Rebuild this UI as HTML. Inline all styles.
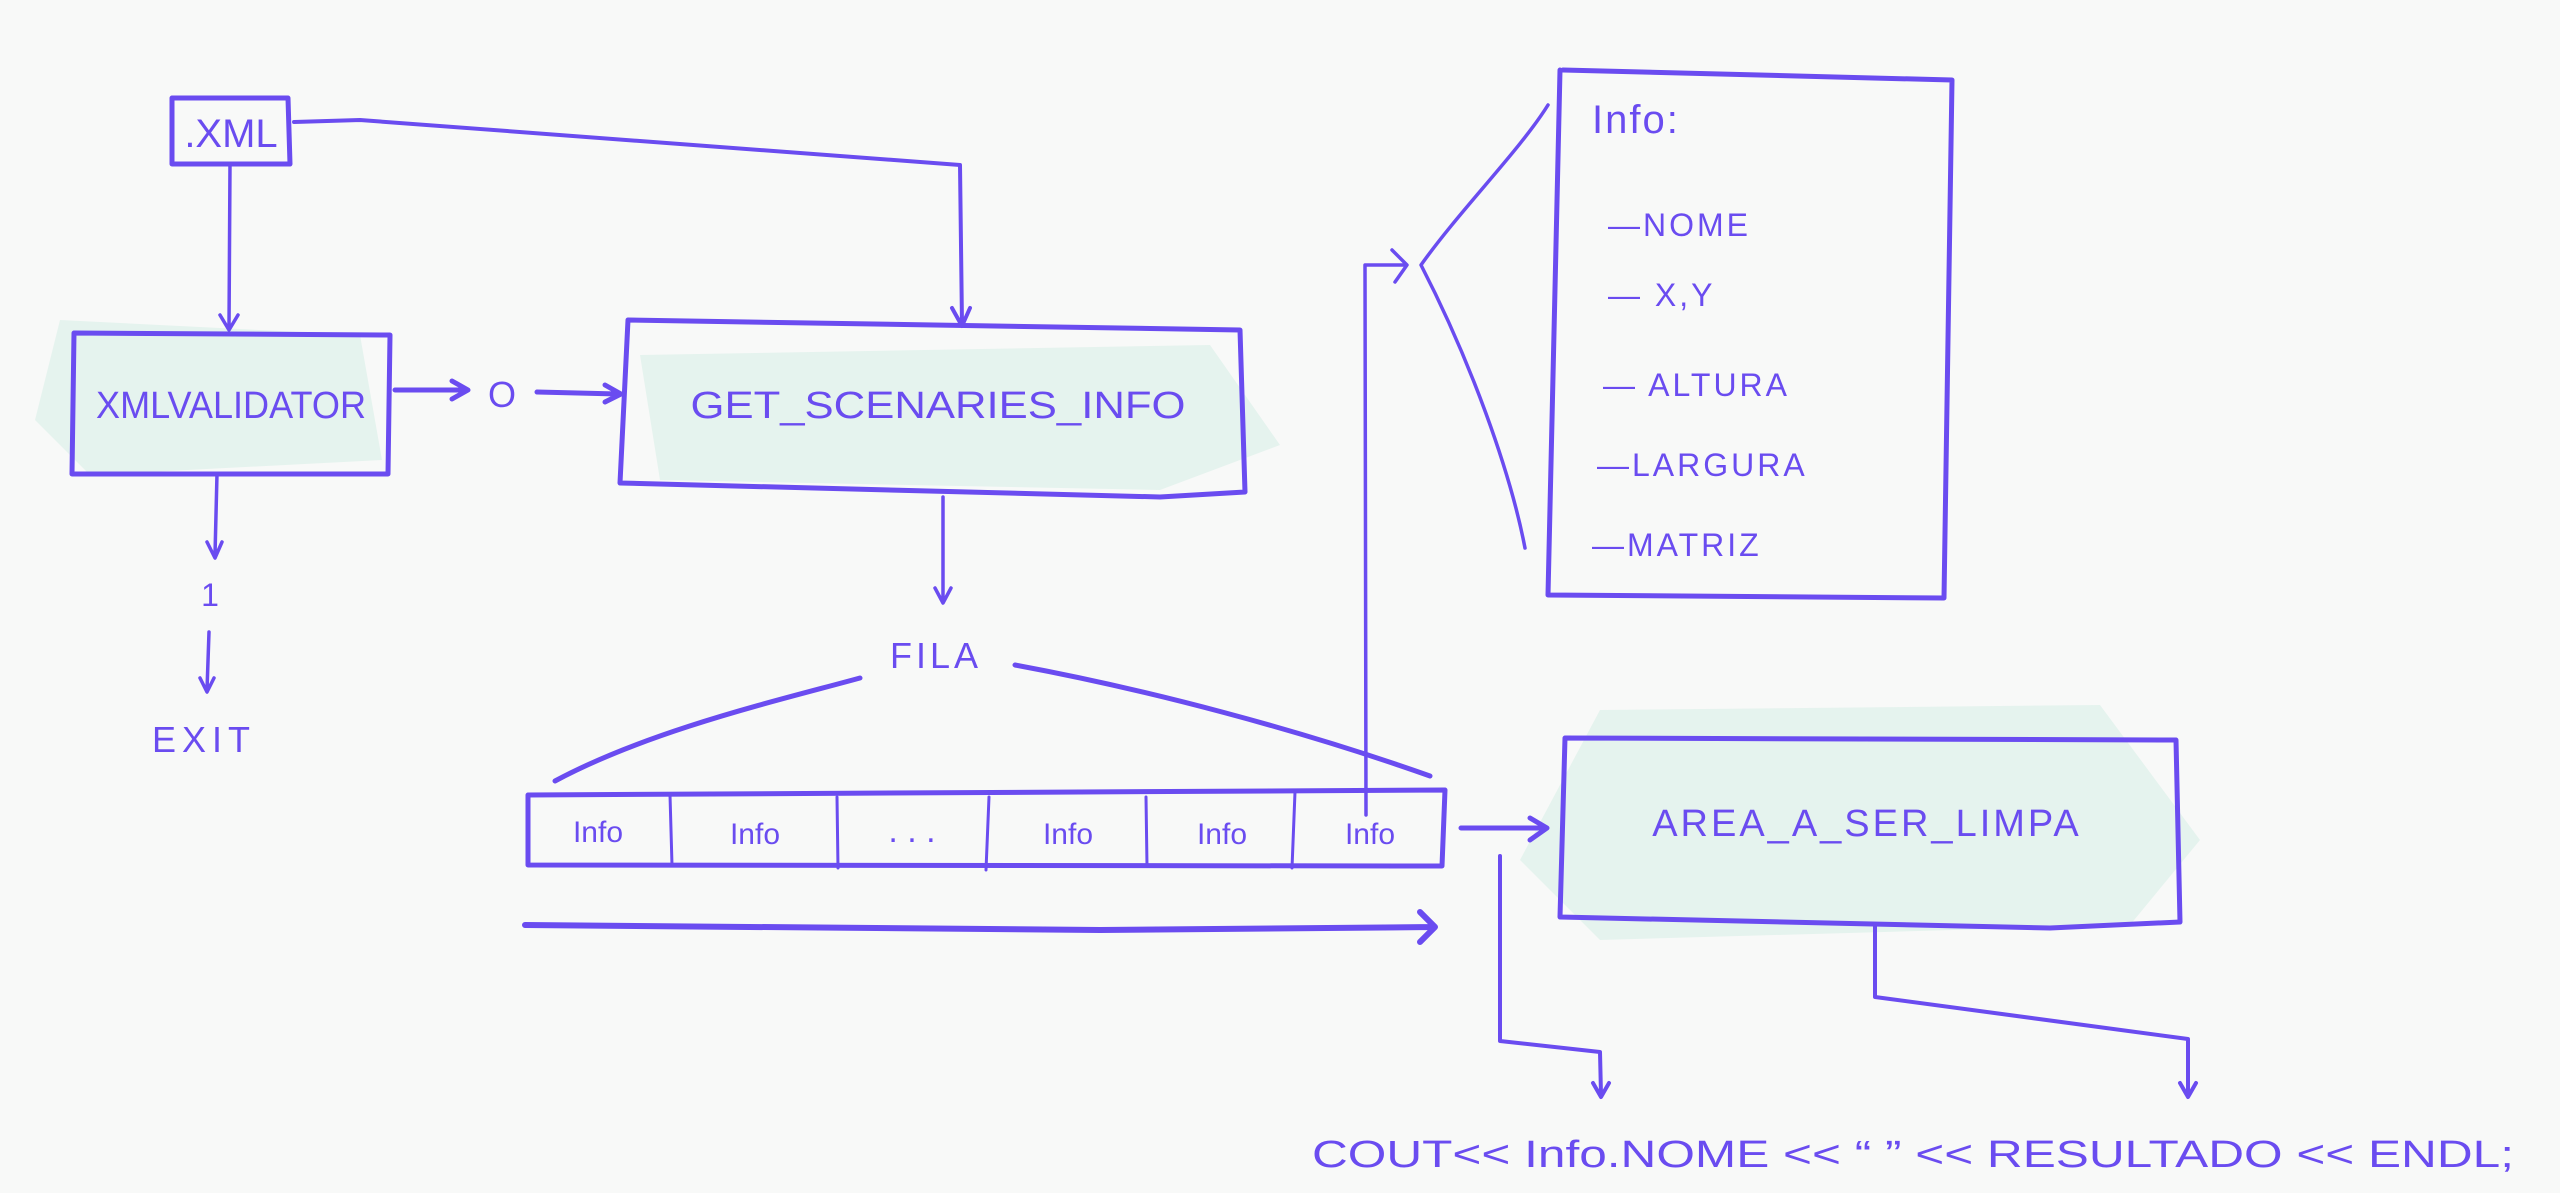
<!DOCTYPE html>
<html><head><meta charset="utf-8"><style>
html,body{margin:0;padding:0;background:#f8f9f8;}
svg{display:block;}
text{font-family:"Liberation Sans",sans-serif;fill:#6a4cf0;}
</style></head><body>
<svg width="2560" height="1193" viewBox="0 0 2560 1193" xmlns="http://www.w3.org/2000/svg">
<rect width="2560" height="1193" fill="#f8f9f8"/>
<g fill="#e5f3ee">
<polygon points="60,320 360,335 382,460 90,475 35,420"/>
<polygon points="640,355 1210,345 1280,445 1160,490 660,480"/>
<polygon points="1600,710 2100,705 2200,840 2130,925 1600,940 1520,860"/>
</g>
<g fill="none" stroke="#6a4cf0" stroke-width="5" stroke-linecap="round" stroke-linejoin="round">
<path d="M172,98 L288,98 L290,164 L172,164 Z"/>
<path d="M74,333 L390,335 L388,474 L72,474 Z"/>
<path d="M628,320 L1240,330 L1245,492 L1160,497 L620,483 Z"/>
<path d="M1563,70 L1952,80 L1944,598 L1548,595 L1560,70"/>
<path d="M1565,738 L2176,740 L2180,922 L2050,928 L1560,917 Z"/>
<path d="M528,795 L1445,790 L1442,866 L528,865 Z"/>
<path d="M670,795 L672,865 M837,797 L838,868 M989,797 L986,870 M1146,797 L1147,866 M1295,792 L1292,868" stroke-width="3"/>
<path d="M230,164 L229,328 M220,315 L229,330 L238,315" stroke-width="3.5"/>
<path d="M294,122 L360,120 L960,165 L962,325 M952,308 L962,326 L970,308" stroke-width="4"/>
<path d="M395,390 L465,390 M452,381 L468,390 L452,399"/>
<path d="M537,392 L618,394 M605,385 L621,394 L605,402"/>
<path d="M217,474 L215,555 M207,542 L215,558 L222,542" stroke-width="3.5"/>
<path d="M209,632 L207,690 M200,678 L207,692 L214,678" stroke-width="3.5"/>
<path d="M943,497 L943,600 M935,588 L943,603 L951,588" stroke-width="3.5"/>
<path d="M860,678 C780,700 650,730 555,781"/>
<path d="M1015,665 C1150,690 1300,730 1430,776"/>
<path d="M1366,815 L1365,265 L1405,265 M1392,250 L1407,265 L1395,282" stroke-width="3.5"/>
<path d="M1548,105 C1520,150 1460,210 1421,265 C1470,360 1510,470 1525,548" stroke-width="3.5"/>
<path d="M1461,828 L1545,828 M1530,818 L1547,828 L1530,840"/>
<path d="M525,925 L1100,930 L1433,927 M1420,912 L1435,927 L1420,942" stroke-width="6"/>
<path d="M1500,856 L1500,1041 L1600,1052 L1601,1095 M1593,1083 L1601,1097 L1609,1083" stroke-width="4"/>
<path d="M1875,925 L1875,997 L2188,1039 L2188,1095 M2180,1083 L2188,1097 L2196,1083" stroke-width="4"/>
</g>
<g font-size="34">
<text x="231" y="147" text-anchor="middle" font-size="40">.XML</text>
<text x="231" y="418" text-anchor="middle" textLength="270" lengthAdjust="spacingAndGlyphs" font-size="38">XMLVALIDATOR</text>
<text x="502" y="407" text-anchor="middle" font-size="36">O</text>
<text x="938" y="418" text-anchor="middle" textLength="495" lengthAdjust="spacingAndGlyphs" font-size="38">GET_SCENARIES_INFO</text>
<text x="210" y="606" text-anchor="middle" font-size="32">1</text>
<text x="204" y="752" text-anchor="middle" font-size="36" letter-spacing="6">EXIT</text>
<text x="936" y="668" text-anchor="middle" font-size="36" letter-spacing="4">FILA</text>
<g font-size="30" text-anchor="middle">
<text x="598" y="842">Info</text>
<text x="755" y="844">Info</text>
<text x="912" y="842" font-size="34">. . .</text>
<text x="1068" y="844">Info</text>
<text x="1222" y="844">Info</text>
<text x="1370" y="844">Info</text>
</g>
<text x="1592" y="133" font-size="40" letter-spacing="2">Info:</text>
<g font-size="32" letter-spacing="3">
<text x="1608" y="236">—NOME</text>
<text x="1608" y="306">— X,Y</text>
<text x="1603" y="396">— ALTURA</text>
<text x="1597" y="476">—LARGURA</text>
<text x="1592" y="556">—MATRIZ</text>
</g>
<text x="1867" y="836" text-anchor="middle" font-size="38" letter-spacing="3">AREA_A_SER_LIMPA</text>
<text x="1312" y="1167" font-size="38" textLength="1202" lengthAdjust="spacingAndGlyphs">COUT&lt;&lt; Info.NOME &lt;&lt; “  ” &lt;&lt; RESULTADO &lt;&lt; ENDL;</text>
</g>
</svg>
</body></html>
